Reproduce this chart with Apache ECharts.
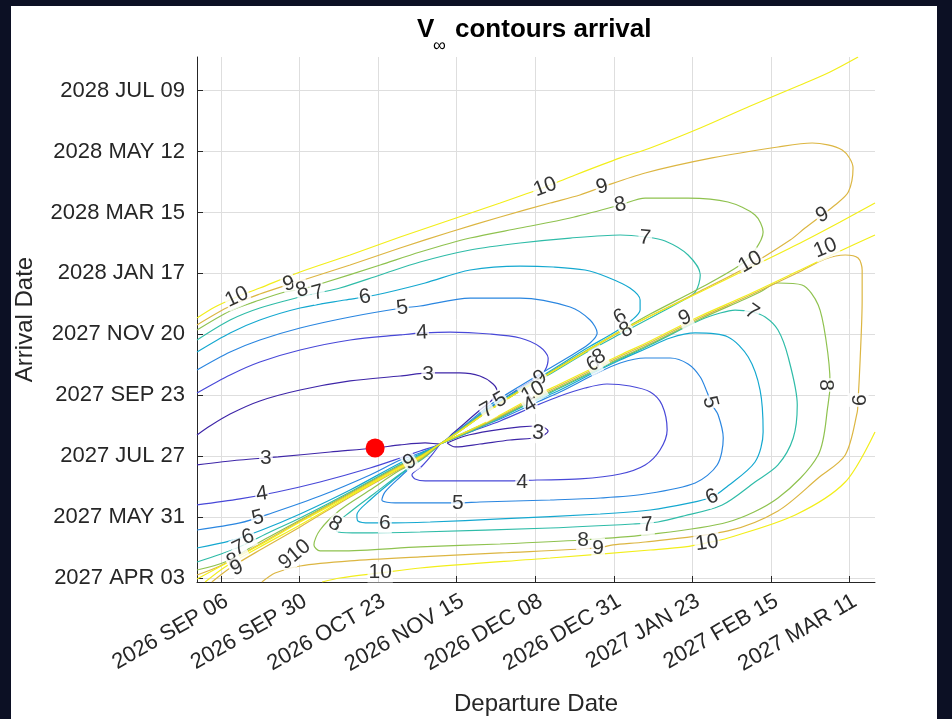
<!DOCTYPE html>
<html><head><meta charset="utf-8">
<script src="https://cdn.jsdelivr.net/npm/echarts@6/dist/echarts.min.js"></script>
<style>
html,body{margin:0;padding:0;background:#0c1024;width:952px;height:719px;overflow:hidden;}
#panel{position:absolute;left:11px;top:6px;width:926px;height:713px;background:#fff;}
#chart{position:absolute;left:0;top:0;width:952px;height:719px;}
</style></head><body><div id="panel"></div><div id="chart"></div>
<script>
// x: days since 2026 SEP 06 (departure), y: days since 2027 APR 03 (arrival)
const xTickDays = [0, 23.25, 46.5, 69.75, 93, 116.25, 139.5, 162.75, 186];
const xTickLabels = ['2026 SEP 06','2026 SEP 30','2026 OCT 23','2026 NOV 15','2026 DEC 08','2026 DEC 31','2027 JAN 23','2027 FEB 15','2027 MAR 11'];
const yTickDays = [0, 57.875, 115.75, 173.625, 231.5, 289.375, 347.25, 405.125, 463];
const yTickLabels = ['2027 APR 03','2027 MAY 31','2027 JUL 27','2027 SEP 23','2027 NOV 20','2028 JAN 17','2028 MAR 15','2028 MAY 12','2028 JUL 09'];
const levels = [3,4,5,6,7,8,9,10];
const levelColors = ['#3e26a8','#4848d8','#2a86e0','#14a8d0','#2fbca8','#8fc24f','#dcb642','#f2ee1a'];

// contour lines (V-infinity, km/s) -- upper-left family
const ul3 = [[-7.1,135.9],[-3.3,144.4],[2.7,155.8],[11.5,168.2],[23.4,178.6],[38.2,187.2],[53.0,191.9],[61.9,194.8],[70.7,194.8],[76.6,191.9],[80.5,184.3],[81.7,176.7],[80.2,169.1],[76.6,159.6],[72.2,147.3],[68.4,136.8],[64.8,127.3],[60.4,128.3],[53.0,126.4],[45.6,123.5],[32.3,119.7],[16.9,115.0],[5.6,112.1],[-7.1,107.4]];
const ul4 = [[-7.1,175.8],[2.7,192.9],[11.5,205.2],[23.4,216.6],[38.2,226.1],[53.0,230.9],[59.8,232.8],[67.8,233.7],[79.6,231.8],[88.5,228.0],[94.4,219.5],[96.8,209.0],[95.9,197.6],[92.9,189.1],[88.5,180.5],[82.6,168.2],[76.6,154.9],[70.7,140.6],[64.8,127.3],[58.9,120.7],[53.0,114.0],[44.1,104.5],[29.3,91.2],[16.6,81.7],[5.6,75.1],[-7.1,69.4]];
const ul5 = [[-7.1,197.6],[2.7,214.7],[11.5,226.1],[23.4,237.5],[38.2,248.0],[53.6,256.5],[58.9,258.4],[73.7,266.0],[88.5,266.0],[103.3,257.5],[109.2,245.1],[111.3,232.8],[109.2,223.3],[104.8,213.8],[97.4,199.5],[88.5,182.4],[79.6,164.4],[72.2,145.4],[64.8,127.3],[58.9,118.8],[53.0,112.1],[44.1,97.9],[29.3,77.9],[15.1,61.8],[5.6,52.3],[-7.1,45.6]];
const ul6 = [[-7.1,214.7],[2.7,232.8],[11.5,245.1],[23.4,256.5],[36.7,264.1],[42.6,267.0],[48.5,270.8],[60.4,280.3],[73.7,292.6],[88.5,296.4],[98.3,295.5],[107.7,292.6],[114.2,286.0],[121.0,275.5],[124.0,264.1],[124.0,254.6],[121.6,245.1],[116.6,233.7],[108.3,218.5],[97.4,196.7],[88.5,179.6],[79.6,162.5],[72.2,144.4],[64.8,127.3],[58.9,117.8],[53.0,109.3],[38.2,83.6],[23.4,60.8],[12.1,45.6],[2.7,35.2],[-7.1,28.5]];
const ul7 = [[-7.1,226.1],[2.7,245.1],[11.5,256.5],[23.4,267.0],[28.7,270.8],[35.2,275.5],[47.1,287.9],[58.9,300.2],[73.7,311.6],[88.5,318.3],[103.3,323.0],[118.1,325.9],[125.5,324.0],[131.4,320.2],[138.2,306.9],[141.8,287.9],[140.3,271.7],[135.8,262.2],[127.0,247.0],[118.1,231.8],[108.3,214.7],[97.4,193.8],[88.5,177.7],[78.7,157.7],[70.7,139.7],[64.8,127.3],[58.9,116.9],[53.0,107.8],[38.2,81.7],[23.4,57.0],[14.5,43.7],[4.7,28.5],[-7.1,15.2]];
const ul8 = [[-7.1,235.6],[2.7,253.7],[11.5,264.1],[18.9,271.7],[24.0,274.6],[29.3,279.3],[47.1,297.4],[58.9,309.7],[73.7,323.0],[88.5,332.5],[103.3,342.0],[118.1,354.4],[125.5,361.0],[138.2,361.0],[150.0,357.2],[158.0,344.9],[160.4,328.7],[158.0,311.6],[153.6,297.4],[141.8,275.5],[127.0,250.8],[118.1,234.7],[108.3,216.6],[97.4,195.7],[88.5,178.6],[78.7,158.7],[70.7,140.6],[64.8,127.3],[58.9,115.9],[53.0,106.9],[38.2,80.8],[23.4,55.1],[11.5,34.2],[1.2,15.2],[-7.1,7.6]];
const ul9 = [[-7.1,240.4],[2.7,258.4],[11.5,269.8],[19.5,278.4],[23.4,282.2],[38.2,297.4],[53.0,313.5],[67.8,328.7],[82.6,343.0],[97.4,356.3],[106.2,363.9],[112.8,371.5],[125.5,384.8],[145.3,399.1],[164.8,409.5],[174.9,413.3],[183.8,406.7],[187.0,389.5],[185.6,366.7],[181.7,354.4],[177.9,344.9],[172.8,332.5],[168.4,321.1],[155.1,294.5],[141.8,272.7],[127.0,248.9],[118.1,233.7],[108.3,215.7],[97.4,194.8],[88.5,177.7],[78.7,157.7],[70.7,139.7],[64.8,127.3],[58.9,115.4],[53.0,106.1],[38.2,79.8],[23.4,54.2],[11.5,32.3],[-0.3,11.4],[-7.1,2.9]];
const ul10a = [[-7.1,247.0],[-1.8,257.5],[4.7,267.0],[11.5,275.5],[23.4,290.7],[38.2,306.9],[53.0,324.0],[67.8,340.1],[82.6,356.3],[95.9,371.5],[103.3,381.0],[118.1,399.1],[127.0,408.6],[141.8,427.6],[156.6,448.5],[171.4,468.4],[180.2,480.8],[188.5,495.0]];
const ul10b = [[193.5,356.3],[183.2,338.2],[171.4,318.3],[155.1,292.6],[141.8,271.7],[127.0,248.9],[118.1,234.7],[108.3,215.7],[97.4,194.8],[88.5,177.7],[78.7,157.7],[70.7,139.7],[64.8,127.3],[58.9,115.0],[53.0,105.5],[38.2,78.9],[23.4,53.2],[11.5,31.4],[-7.1,-1.0]];
// lower-right family
const lr3 = [[66.9,128.3],[72.2,134.9],[79.6,139.7],[88.5,143.5],[94.4,144.4],[96.8,139.7],[94.4,134.0],[85.5,131.1],[76.6,127.3],[69.3,124.5],[66.9,128.3]];
const lr4 = [[64.8,127.3],[73.7,138.7],[82.6,149.2],[92.9,163.4],[100.3,172.9],[107.7,180.5],[114.2,184.3],[121.0,182.4],[127.0,176.7],[130.5,164.4],[132.0,140.6],[129.9,121.6],[125.5,107.4],[118.1,98.8],[106.2,94.1],[93.5,93.1],[84.1,92.2],[70.7,92.2],[60.4,92.2],[57.4,94.1],[56.5,97.9],[59.5,106.4],[62.4,116.9],[64.8,127.3]];
const lr5 = [[64.8,127.3],[73.7,139.7],[82.6,151.1],[92.9,166.3],[100.3,176.7],[110.7,193.8],[118.1,204.3],[125.5,209.0],[132.9,209.0],[138.2,203.3],[141.8,191.0],[143.8,176.7],[145.3,164.4],[147.1,154.9],[148.6,133.0],[146.8,107.4],[140.3,90.3],[125.5,79.8],[112.2,76.0],[97.4,74.1],[76.6,72.2],[70.1,71.3],[60.4,71.3],[51.5,71.3],[47.6,74.1],[48.5,81.7],[53.0,96.0],[58.3,111.2],[61.9,119.7],[64.8,127.3]];
const lr6 = [[64.8,127.3],[73.7,140.6],[82.6,153.0],[92.9,168.2],[100.3,178.6],[110.7,195.7],[118.1,207.1],[125.5,217.6],[132.9,228.0],[140.3,232.8],[150.0,229.0],[156.0,210.0],[159.5,178.6],[160.4,138.7],[158.0,110.2],[149.2,85.5],[145.3,77.0],[138.8,71.3],[127.0,64.6],[112.2,60.8],[82.6,56.1],[61.9,53.2],[48.5,52.3],[44.1,52.3],[40.5,54.2],[40.2,59.9],[44.1,74.1],[50.0,90.3],[55.9,105.5],[61.3,118.8],[64.8,127.3]];
const lr7 = [[64.8,127.3],[73.7,138.7],[82.6,152.0],[92.9,169.1],[100.3,180.5],[110.7,196.7],[118.1,208.1],[127.0,221.4],[141.8,245.1],[147.7,251.8],[152.1,254.6],[157.1,252.7],[161.0,248.0],[164.8,235.6],[167.8,210.0],[170.5,164.4],[169.3,133.0],[164.8,107.4],[158.0,91.2],[148.3,69.4],[135.8,58.0],[129.3,53.2],[121.9,51.3],[97.4,47.5],[58.9,43.7],[41.1,42.8],[34.6,43.7],[34.0,49.4],[38.2,62.7],[45.6,80.8],[53.0,98.8],[60.4,115.0],[64.8,127.3]];
const lr8 = [[64.8,127.3],[73.7,139.7],[82.6,153.0],[92.9,170.1],[100.3,181.5],[110.7,197.6],[118.1,209.0],[127.0,222.3],[141.8,246.1],[155.1,265.1],[159.5,271.7],[164.8,280.3],[171.9,278.4],[176.7,259.4],[179.0,226.1],[180.2,185.3],[179.6,164.4],[176.7,116.9],[164.8,76.0],[150.0,53.2],[125.5,40.9],[106.8,36.1],[82.6,32.3],[58.9,29.5],[35.2,25.7],[29.3,25.7],[27.5,31.4],[29.3,45.6],[35.2,64.6],[44.1,83.6],[53.0,102.6],[58.9,112.1],[64.8,127.3]];
const lr9 = [[-2.7,-3.8],[2.7,9.5],[11.5,26.6],[23.4,48.5],[38.2,77.0],[53.0,103.6],[58.9,113.1],[64.8,127.3],[73.7,140.1],[82.6,153.9],[92.9,171.5],[100.3,182.9],[110.7,199.0],[118.1,210.5],[127.0,223.8],[141.8,247.5],[155.1,266.5],[171.4,291.2],[178.8,303.1],[184.7,306.9],[188.5,304.0],[189.7,292.6],[189.7,264.1],[189.1,207.1],[188.5,169.1],[188.2,156.8],[184.7,116.9],[176.7,95.0],[164.8,63.7],[150.0,44.7],[125.5,34.2],[116.0,31.4],[111.3,28.5],[82.6,23.8],[58.9,20.0],[38.2,16.2],[23.4,11.4],[16.0,4.8],[12.1,-3.8]];
const lr10a = [[-4.7,-3.8],[1.2,10.5],[11.5,29.5],[23.4,50.4],[38.2,77.9],[53.0,104.5],[58.9,114.0],[64.8,127.3],[73.7,140.6],[82.6,154.9],[92.9,172.9],[100.3,184.3],[110.7,200.5],[118.1,211.9],[127.0,225.2],[141.8,248.9],[155.1,267.9],[171.4,292.6],[183.2,310.7],[193.5,325.9]];
const lr10b = [[193.5,138.7],[184.7,91.2],[169.9,59.9],[150.0,38.0],[143.8,33.3],[137.3,29.5],[127.0,26.6],[97.4,19.0],[58.9,9.5],[47.1,4.8],[35.2,0],[29.9,-3.8]];

// inline contour labels
const labelX = [4.7,20.1,24.0,28.7,42.6,53.6,59.5,61.3,95.9,112.8,118.1,125.5,118.1,119.9,110.1,111.9,94.4,92.3,91.4,82.6,78.7,137.3,156.6,178.8,177.9,157.1,144.7,178.8,188.5,93.8,89.1,70.1,48.5,145.3,126.1,107.1,111.6,143.8,47.1,13.3,12.1,10.9,8.0,5.3,3.6,4.7,33.7,19.2,23.1,55.9];
const labelY = [267.0,279.3,273.6,270.8,267.0,256.5,232.8,193.8,371.5,371.5,354.4,323.0,248.0,235.6,203.3,210.0,190.0,176.7,164.4,169.1,159.6,247.0,300.2,313.5,344.9,252.7,167.2,183.4,169.1,137.8,91.2,71.3,52.3,77.0,50.4,36.1,28.5,33.3,5.7,114.0,79.8,57.0,39.0,28.5,16.2,9.5,51.3,15.2,25.7,110.2];
const labelText = ['10','9','8','7','6','5','4','3','10','9','8','7','6','8','6','8','9','10','4','5','7','9','10','10','9','7','5','8','9','3','4','5','6','6','7','8','9','10','10','3','4','5','6','7','8','9','8','9','10','9'];
const labelRot = [25,18,18,15,10,8,3,0,20,15,12,-5,30,30,30,30,30,30,30,30,30,25,30,22,25,-35,-75,-90,-90,-5,0,0,0,25,5,0,0,8,0,0,8,15,20,25,25,25,-30,40,40,30];

const targetPoint = [[45.6,123.5]];

const contours = [
  [3,ul3],[4,ul4],[5,ul5],[6,ul6],[7,ul7],[8,ul8],[9,ul9],[10,ul10a],[10,ul10b],
  [3,lr3],[4,lr4],[5,lr5],[6,lr6],[7,lr7],[8,lr8],[9,lr9],[10,lr10a],[10,lr10b]
];

const FONT = '"Liberation Sans", Arial, Helvetica, sans-serif';
const chart = echarts.init(document.getElementById('chart'), null, {renderer:'canvas'});

const nearestLabel = (vals, labs) => v => {
  let best = 0;
  for (let i = 1; i < vals.length; i++) if (Math.abs(vals[i]-v) < Math.abs(vals[best]-v)) best = i;
  return Math.abs(vals[best]-v) < 1 ? labs[best] : '';
};

const series = contours.map(([lv, pts]) => ({
  type: 'line', data: pts, showSymbol: false, symbol: 'none', smooth: 0.3,
  lineStyle: { color: levelColors[levels.indexOf(lv)], width: 1.2 },
  silent: true, z: 2, animation: false
}));

series.push({
  type: 'scatter', z: 5, silent: true, animation: false,
  symbol: 'circle', symbolSize: 1, itemStyle: { color: 'rgba(255,255,255,0)' },
  data: labelX.map((x, i) => ({
    value: [x, labelY[i]], txt: labelText[i],
    label: { rotate: labelRot[i] }
  })),
  label: {
    show: true, position: 'inside', formatter: p => p.data.txt,
    fontSize: 21, fontFamily: FONT, color: '#000000', textBorderWidth: 0,
    backgroundColor: '#ffffff', padding: [0, 1]
  },
  labelLayout: { hideOverlap: false }
});
series.push({
  type: 'scatter', z: 6, silent: true, animation: false,
  data: targetPoint, symbolSize: 19, itemStyle: { color: '#ff0000', opacity: 1 }
});

chart.setOption({
  backgroundColor: 'transparent',
  animation: false,
  grid: { left: 197, right: 77, top: 57, bottom: 137, containLabel: false, outerBoundsMode: 'none' },
  xAxis: {
    type: 'value', min: -7.1, max: 193.5,
    name: 'Departure Date', nameLocation: 'middle', nameGap: 110,
    nameTextStyle: { fontSize: 24, fontFamily: FONT, color: '#262626' },
    axisLine: { show: true, onZero: false, lineStyle: { color: '#262626', width: 1 } },
    axisTick: { show: true, inside: true, length: 6, customValues: xTickDays, lineStyle: { color: '#262626' } },
    axisLabel: { customValues: xTickDays, formatter: nearestLabel(xTickDays, xTickLabels),
      rotate: 30, fontSize: 22, fontFamily: FONT, color: '#262626', margin: 8,
      align: 'right', verticalAlign: 'top' },
    splitLine: { show: true, lineStyle: { color: '#dedede', width: 1 } }
  },
  yAxis: {
    type: 'value', min: -3.8, max: 495,
    name: 'Arrival Date', nameLocation: 'middle', nameGap: 160, nameRotate: 90,
    nameTextStyle: { fontSize: 24, fontFamily: FONT, color: '#262626' },
    axisLine: { show: true, onZero: false, lineStyle: { color: '#262626', width: 1 } },
    axisTick: { show: true, inside: true, length: 6, customValues: yTickDays, lineStyle: { color: '#262626' } },
    axisLabel: { customValues: yTickDays, formatter: nearestLabel(yTickDays, yTickLabels),
      fontSize: 22, fontFamily: FONT, color: '#262626', margin: 12 },
    splitLine: { show: true, lineStyle: { color: '#dedede', width: 1 } }
  },
  graphic: [
    { type: 'text', left: 417, top: 17, style: { text: 'V', font: 'bold 26px ' + FONT, fill: '#000' } },
    { type: 'text', left: 433, top: 37, style: { text: '\u221E', font: '18px ' + FONT, fill: '#000' } },
    { type: 'text', left: 455, top: 17, style: { text: 'contours arrival', font: 'bold 26px ' + FONT, fill: '#000' } }
  ],
  series: series
});
</script></body></html>
